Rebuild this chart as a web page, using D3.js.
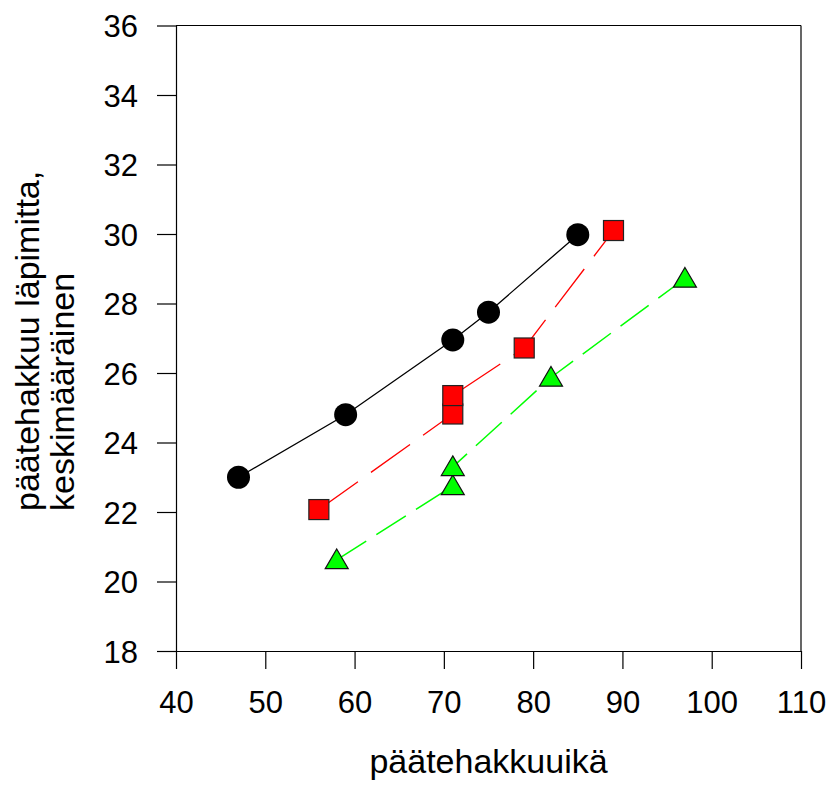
<!DOCTYPE html>
<html>
<head>
<meta charset="utf-8">
<script src="https://cdn.jsdelivr.net/npm/d3@7"></script>
<style>
  body { margin: 0; background: #fff; }
  text { font-family: "Liberation Sans", Arial, sans-serif; fill: #000; }
</style>
</head>
<body>
<div id="chart"></div>
<script>
// data
var ageBlack = [47, 59, 71, 75, 85];
var diamBlack = [23.0, 24.8, 26.95, 27.75, 29.98];
var ageRed = [56, 71, 71, 79, 89];
var diamRed = [22.07, 24.82, 25.35, 26.72, 30.1];
var ageGreen = [58, 71, 71, 82, 97];
var diamGreen = [20.62, 22.75, 23.3, 25.87, 28.72];
var xTicks = [40, 50, 60, 70, 80, 90, 100, 110];
var yTicks = [18, 20, 22, 24, 26, 28, 30, 32, 34, 36];

function zipSeries(xs, ys) {
    return xs.map(function(x, i) { return {x: x, y: ys[i]}; });
}
var black = zipSeries(ageBlack, diamBlack),
    red = zipSeries(ageRed, diamRed),
    green = zipSeries(ageGreen, diamGreen);

// set the dimensions and margins of the graph
var W = 832, H = 785;
var margin = {top: 25.5, right: 31, bottom: 134, left: 176},
    width = W - margin.left - margin.right,
    height = H - margin.top - margin.bottom;

var svg = d3.select("#chart").append("svg")
    .attr("width", W)
    .attr("height", H)
    .append("g")
    .attr("transform", "translate(" + margin.left + "," + margin.top + ")");

// set the ranges
var x = d3.scaleLinear().domain([40, 110]).range([0, width]);
var y = d3.scaleLinear().domain([18, 36]).range([height, 0]);

// frame (top + right)
svg.append("line")
    .attr("x1", 0).attr("x2", width).attr("y1", 0).attr("y2", 0)
    .style("stroke", "#000").style("stroke-width", 1.2);
svg.append("line")
    .attr("x1", width).attr("x2", width).attr("y1", 0).attr("y2", height)
    .style("stroke", "#000").style("stroke-width", 1.2);

// Add the Y Axis
var yAxis = svg.append("g")
    .call(d3.axisLeft(y).tickValues(yTicks).tickSize(19).tickSizeOuter(0).tickPadding(19));
yAxis.selectAll("text").style("font-size", "31px").attr("dy", "0.36em");

// Add the X Axis
var xAxis = svg.append("g")
    .attr("transform", "translate(0," + height + ")")
    .call(d3.axisBottom(x).tickValues(xTicks).tickSize(18).tickSizeOuter(0).tickPadding(22));
xAxis.selectAll("text").style("font-size", "31px");

svg.selectAll(".domain").style("stroke", "#000").style("stroke-width", 1.2);
svg.selectAll(".tick line").style("stroke", "#000").style("stroke-width", 1.2);

// axis titles
svg.append("text")
    .attr("x", width / 2)
    .attr("y", 773 - margin.top)
    .attr("text-anchor", "middle")
    .style("font-size", "34px")
    .text("päätehakkuuikä");

var yTitle = svg.append("text")
    .attr("transform", "translate(" + (39 - margin.left) + "," + (511 - margin.top) + ") rotate(-90)")
    .attr("text-anchor", "start")
    .style("font-size", "34px");
yTitle.append("tspan").attr("x", 0).attr("y", 0).text("päätehakkuu läpimitta,");
yTitle.append("tspan").attr("x", 0).attr("y", 35).text("keskimääräinen");

// lines
var valueline = d3.line()
    .x(function(d) { return x(d.x); })
    .y(function(d) { return y(d.y); });

svg.append("path")
    .datum(black)
    .attr("d", valueline)
    .style("fill", "none")
    .style("stroke", "#000")
    .style("stroke-width", 1.3);

svg.append("path")
    .datum(red)
    .attr("d", valueline)
    .style("fill", "none")
    .style("stroke", "#ff0000")
    .style("stroke-width", 1.3)
    .style("stroke-dasharray", "48,16");

svg.append("path")
    .datum(green)
    .attr("d", valueline)
    .style("fill", "none")
    .style("stroke", "#00ff00")
    .style("stroke-width", 1.5)
    .style("stroke-dasharray", "35,12");

// markers
svg.selectAll("circle.pt")
    .data(black)
    .enter().append("circle")
    .attr("class", "pt")
    .attr("cx", function(d) { return x(d.x); })
    .attr("cy", function(d) { return y(d.y); })
    .attr("r", 11.5)
    .style("fill", "#000");

svg.selectAll("rect.pt")
    .data(red)
    .enter().append("rect")
    .attr("class", "pt")
    .attr("x", function(d) { return x(d.x) - 10; })
    .attr("y", function(d) { return y(d.y) - 10; })
    .attr("width", 20)
    .attr("height", 20)
    .style("fill", "#ff0000")
    .style("stroke", "#222")
    .style("stroke-width", 1.2);

svg.selectAll("path.tri")
    .data(green)
    .enter().append("path")
    .attr("class", "tri")
    .attr("transform", function(d) { return "translate(" + x(d.x) + "," + y(d.y) + ")"; })
    .attr("d", "M0,-11L11.5,8.7L-11.5,8.7Z")
    .style("fill", "#00ff00")
    .style("stroke", "#111")
    .style("stroke-width", 1.2);
</script>
</body>
</html>
